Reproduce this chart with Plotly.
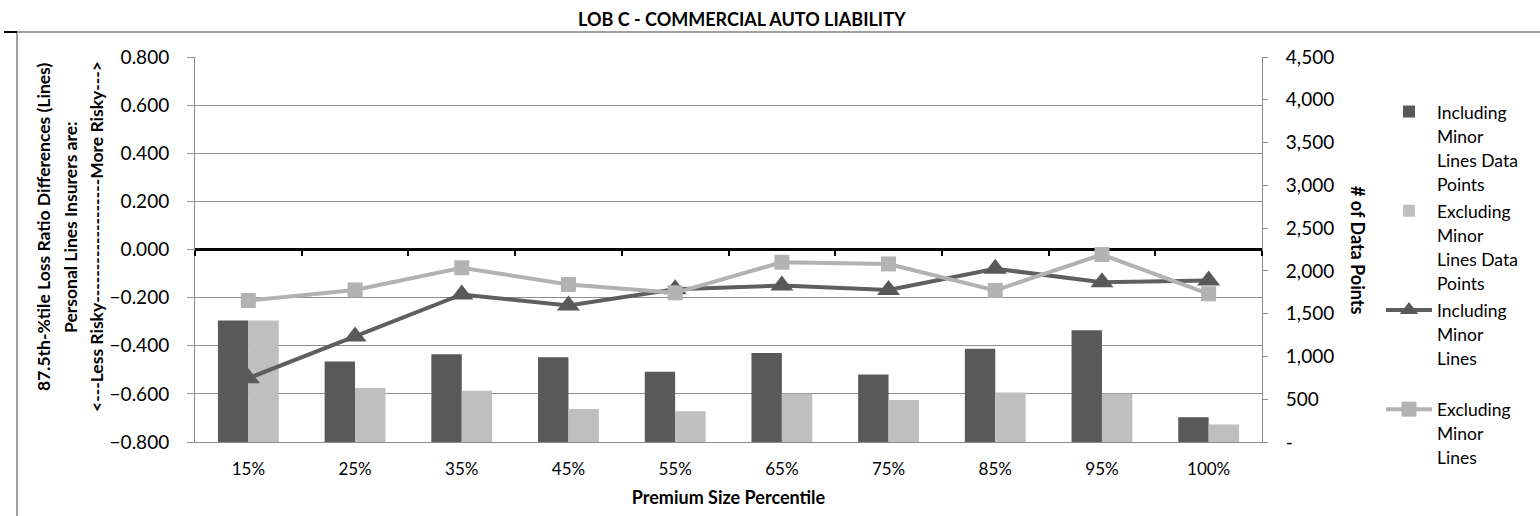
import plotly.graph_objects as go

# ---- data -------------------------------------------------------------
categories = ["15%", "25%", "35%", "45%", "55%", "65%", "75%", "85%", "95%", "100%"]

incl_points = [1420, 940, 1025, 990, 820, 1040, 790, 1090, 1305, 290]
excl_points = [1420, 630, 600, 385, 360, 565, 490, 580, 565, 205]

incl_ratio = [-0.535, -0.362, -0.187, -0.233, -0.165, -0.150, -0.168, -0.080, -0.136, -0.129]
excl_ratio = [-0.212, -0.168, -0.076, -0.145, -0.180, -0.053, -0.060, -0.170, -0.021, -0.184]

count_ticks = [0, 500, 1000, 1500, 2000, 2500, 3000, 3500, 4000, 4500]
count_labels = ["-" if v == 0 else f"{v:,}" for v in count_ticks]

# ---- geometry ---------------------------------------------------------
W, H = 1540, 516
L, R, T, B = 195, 278, 57, 74
PW, PH = W - L - R, H - T - B


def px_x(px):
    return (px - L) / PW


def px_y(py):
    return (H - B - py) / PH


FONT = "Lato, 'Open Sans', sans-serif"
DARK = "#595959"
LIGHT = "#BFBFBF"
GRID = "#8C8C8C"
TICK_SIZE = 19
LABEL_SIZE = 18


def leg(lines):
    return "<br>".join(f'<span style="font-size:17.5px">{s}</span>' for s in lines)


fig = go.Figure()

fig.add_trace(go.Bar(
    x=categories, y=incl_points, name=leg(["Including", "Minor", "Lines Data", "Points"]),
    marker=dict(color=DARK, line=dict(width=0)), xaxis="x", yaxis="y", legendgroup="a",
))
fig.add_trace(go.Bar(
    x=categories, y=excl_points, name=leg(["Excluding", "Minor", "Lines Data", "Points"]),
    marker=dict(color=LIGHT, line=dict(width=0)), xaxis="x", yaxis="y", legendgroup="b",
))
fig.add_trace(go.Scatter(
    x=categories, y=incl_ratio, name=leg(["Including", "Minor", "Lines", "&#160;"]),
    mode="lines+markers", line=dict(color="#5F5F5F", width=4),
    marker=dict(symbol="triangle-up", size=20, color=DARK),
    xaxis="x", yaxis="y2", legendgroup="c",
))
fig.add_trace(go.Scatter(
    x=categories, y=excl_ratio, name=leg(["Excluding", "Minor", "Lines"]),
    mode="lines+markers", line=dict(color="#B2B2B2", width=4),
    marker=dict(symbol="square", size=15, color="#B3B3B3"),
    xaxis="x", yaxis="y2", legendgroup="d",
))
# carrier for the category-boundary ticks drawn on the zero line
fig.add_trace(go.Scatter(x=[], y=[], xaxis="x2", yaxis="y2", showlegend=False, hoverinfo="skip"))

n = len(categories)
fig.update_layout(
    width=W, height=H,
    margin=dict(l=L, r=R, t=T, b=B),
    paper_bgcolor="white", plot_bgcolor="white",
    font=dict(family=FONT, size=15, color="#000000"),
    barmode="group", bargap=0.43, bargroupgap=0.0,
    xaxis=dict(
        type="category", categoryorder="array", categoryarray=categories,
        range=[-0.5, n - 0.5],
        showline=True, linecolor=GRID, linewidth=1, mirror=False,
        ticks="", showgrid=False, ticklabelstandoff=12,
        tickfont=dict(size=17),
        title=dict(text="<b>Premium Size Percentile</b>", font=dict(size=LABEL_SIZE), standoff=12),
    ),
    xaxis2=dict(
        type="linear", overlaying="x", anchor="free", position=0.5,
        range=[-0.5, n - 0.5], tickvals=[i - 0.5 for i in range(n + 1)],
        showticklabels=False, showline=False, showgrid=False, zeroline=False,
        ticks="outside", ticklen=5, tickwidth=2, tickcolor="#000000",
    ),
    yaxis=dict(
        side="right", range=[0, 4500], tickvals=count_ticks, ticktext=count_labels,
        showgrid=False, zeroline=False, showline=True, linecolor=GRID, linewidth=1,
        ticks="outside", ticklen=5, tickcolor=GRID, ticklabelstandoff=14,
        tickfont=dict(size=TICK_SIZE),
    ),
    yaxis2=dict(
        side="left", overlaying="y", range=[-0.8, 0.8], dtick=0.2, tick0=0,
        tickformat=".3f", showgrid=True, gridcolor=GRID, gridwidth=1,
        zeroline=True, zerolinecolor="#000000", zerolinewidth=3,
        showline=True, linecolor=GRID, linewidth=1,
        ticks="outside", ticklen=7, tickcolor=GRID, ticklabelstandoff=14,
        tickfont=dict(size=TICK_SIZE),
    ),
    legend=dict(
        x=px_x(1381), y=px_y(93), xanchor="left", yanchor="top",
        font=dict(size=18.5), valign="top", itemwidth=46,
        tracegroupgap=0, traceorder="normal", bgcolor="rgba(0,0,0,0)",
        maxheight=500,
    ),
    showlegend=True,
)

annotations = [
    dict(text="<b>LOB C - COMMERCIAL AUTO LIABILITY</b>", x=px_x(742), y=px_y(19),
         font=dict(size=LABEL_SIZE)),
    dict(text="<b>87.5th-%tile Loss Ratio Differences (Lines)</b>", x=px_x(43), y=px_y(227),
         textangle=-90, font=dict(size=17.5)),
    dict(text="<b>Personal Lines Insurers are:</b>", x=px_x(70), y=px_y(227),
         textangle=-90, font=dict(size=17.5)),
    dict(text="<b>&lt;---Less Risky-------------------More Risky---&gt;</b>", x=px_x(96), y=px_y(237),
         textangle=-90, font=dict(size=17.5)),
    dict(text="<b># of Data Points</b>", x=px_x(1358), y=px_y(250),
         textangle=90, font=dict(size=LABEL_SIZE)),
]
for a in annotations:
    a.update(xref="paper", yref="paper", xanchor="center", yanchor="middle", showarrow=False)
fig.update_layout(annotations=annotations)

# chart frame edges
fig.update_layout(shapes=[
    dict(type="line", xref="paper", yref="paper", x0=px_x(17), x1=px_x(1540), y0=px_y(32), y1=px_y(32),
         line=dict(color="#A0A0A0", width=2)),
    dict(type="line", xref="paper", yref="paper", x0=px_x(17), x1=px_x(17), y0=px_y(32), y1=px_y(516),
         line=dict(color="#A0A0A0", width=2)),
    dict(type="line", xref="paper", yref="paper", x0=px_x(4), x1=px_x(17), y0=px_y(32), y1=px_y(32),
         line=dict(color="#000000", width=2)),
])

fig.write_html("out.html")
